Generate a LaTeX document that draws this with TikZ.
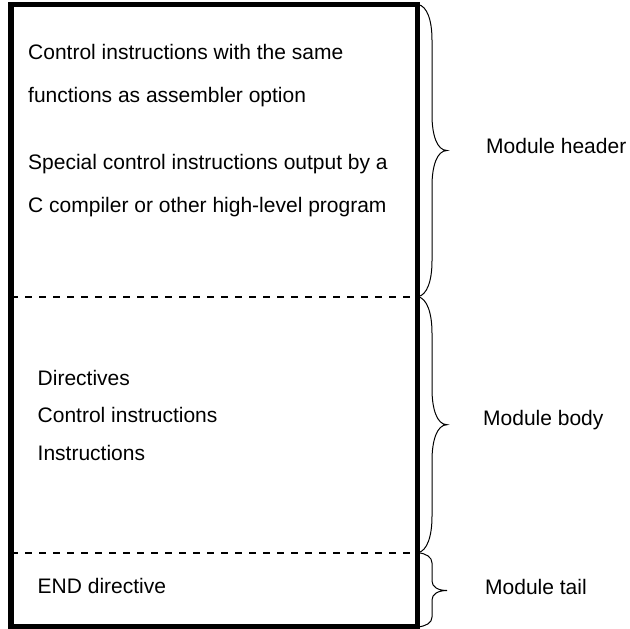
\documentclass[tikz,border=0pt]{standalone}
\usepackage{fontspec}
\setmainfont{Liberation Sans}
\begin{document}
\begin{tikzpicture}[x=1pt,y=-1pt,
  txt/.style={anchor=base west,inner sep=0pt,font=\fontsize{21}{25}\selectfont},
  frame/.style={line width=5.5pt,line join=miter},
  sep/.style={line width=1.8pt,dash pattern=on 7pt off 7pt},
  bracestyle/.style={line width=1pt}]
\useasboundingbox (0,0) rectangle (630,629);
% frame
\coordinate (tl) at (11,4.5);
\coordinate (br) at (417.5,626.5);
\draw[frame] (tl) rectangle (br);
% separators
\coordinate (s1l) at (11,296.7);
\coordinate (s1r) at (417.5,296.7);
\coordinate (s2l) at (11,552.7);
\coordinate (s2r) at (417.5,552.7);
\draw[sep] (s1l) -- (s1r);
\draw[sep] (s2l) -- (s2r);
% braces
\draw[bracestyle] (418,4.5) .. controls (427,6) and (432,20) .. (432,40) -- (432,115)
  .. controls (432,135) and (437,150.5) .. (447,150.5)
  .. controls (437,150.5) and (432,166) .. (432,186) -- (432,261)
  .. controls (432,281) and (427,295) .. (418,296.7);
\draw[bracestyle] (418,296.7) .. controls (427,298.5) and (432,313) .. (432,333) -- (432,389)
  .. controls (432,409) and (437,424.7) .. (447,424.7)
  .. controls (437,424.7) and (432,440.5) .. (432,460.5) -- (432,516.5)
  .. controls (432,536.5) and (427,551) .. (418,552.7);
\draw[bracestyle] (418,552.7) .. controls (426,553.5) and (432,557) .. (432,563) -- (432,581)
  .. controls (432,587) and (438,590.5) .. (447,590.5)
  .. controls (438,590.5) and (432,594) .. (432,600) -- (432,617)
  .. controls (432,623) and (426,626) .. (418,627);
% texts
\node[txt] (h1) at (28,59.3) {Control instructions with the same};
\node[txt] (h2) at (28,102) {functions as assembler option};
\node[txt] (h3) at (28,169.5) {Special control instructions output by a};
\node[txt] (h4) at (28,212.5) {C compiler or other high-level program};
\node[txt] (b1) at (37.5,385) {Directives};
\node[txt] (b2) at (37.5,422.7) {Control instructions};
\node[txt] (b3) at (37.5,460.4) {Instructions};
\node[txt] (t1) at (37.5,593.3) {END directive};
\node[txt] (mh) at (486,153.3) {Module header};
\node[txt] (mb) at (483,425) {Module body};
\node[txt] (mt) at (485,594) {Module tail};
\end{tikzpicture}
\end{document}
